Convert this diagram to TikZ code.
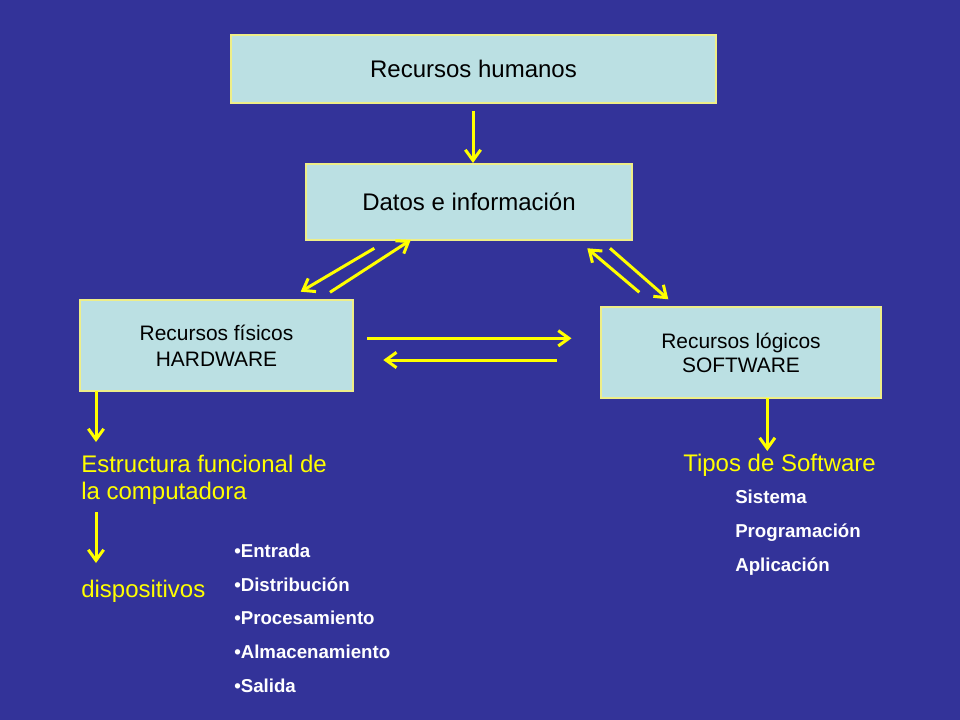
\documentclass[tikz,border=0pt]{standalone}
\usepackage{fontspec}
\setmainfont{Liberation Sans}
\usetikzlibrary{arrows.meta}
\definecolor{bg}{HTML}{333399}
\definecolor{boxfill}{HTML}{BBE0E3}
\definecolor{boxline}{HTML}{EEEE88}
\definecolor{arr}{HTML}{FFFF00}
\tikzset{
  box/.style={draw=boxline, line width=1.1pt, fill=boxfill, inner sep=0pt, align=center, text=black},
  conn/.style={draw=arr, line width=2.25pt, -{Straight Barb[length=8pt,width=11.5pt]}},
  ytext/.style={text=arr, anchor=base west, inner sep=0pt, font=\fontsize{18}{20.7}\selectfont},
  wtext/.style={text=white, anchor=base west, inner sep=0pt, font=\fontsize{14}{16}\selectfont\bfseries}
}
\begin{document}
\begin{tikzpicture}[x=0.75pt,y=-0.75pt]
\fill[bg] (0,0) rectangle (960,720);
\useasboundingbox (0,0) rectangle (960,720);

\node[box, minimum width=363.75pt, minimum height=51pt, font=\fontsize{18}{20.7}\selectfont] (hum) at (473.5,69) {Recursos humanos};
\node[box, minimum width=244.5pt, minimum height=57pt, font=\fontsize{18}{20.7}\selectfont] (dat) at (469,202) {Datos e información};
\node[box, minimum width=204.75pt, minimum height=68.25pt, font=\fontsize{15.7}{19.5}\selectfont] (fis) at (216.5,345.5) {Recursos físicos\\HARDWARE};
\node[box, minimum width=210pt, minimum height=68.25pt, font=\fontsize{15.7}{18}\selectfont] (log) at (741,352.5) {Recursos lógicos\\SOFTWARE};

\node[ytext] (est1) at (81,472) {Estructura funcional de};
\node[ytext] (est2) at (81,499) {la computadora};
\node[ytext] (disp) at (81,597) {dispositivos};
\node[ytext] (tipos) at (683,471) {Tipos de Software};

\node[wtext] (b1) at (234,557) {•Entrada};
\node[wtext] (b2) at (234,591) {•Distribución};
\node[wtext] (b3) at (234,624.5) {•Procesamiento};
\node[wtext] (b4) at (234,658) {•Almacenamiento};
\node[wtext] (b5) at (234,692) {•Salida};

\node[wtext] (s1) at (735,503) {Sistema};
\node[wtext] (s2) at (735,537.5) {Programación};
\node[wtext] (s3) at (735,571) {Aplicación};

% connector end points
\coordinate (h1) at (473,111);  \coordinate (h2) at (473,163);
\coordinate (a1) at (374.3,248.3); \coordinate (a2) at (300.7,291.7);
\coordinate (b1s) at (330,292.3); \coordinate (b2s) at (410.7,240);
\coordinate (c1) at (639.3,292.3); \coordinate (c2) at (587.3,248.3);
\coordinate (d1) at (610,248.3); \coordinate (d2) at (668.3,299.3);
\coordinate (r1) at (367.3,338.3); \coordinate (r2) at (571.5,338.3);
\coordinate (l1) at (556.7,360); \coordinate (l2) at (383.3,360);
\coordinate (f1) at (96,391); \coordinate (f2) at (96,442);
\coordinate (e1) at (96,512); \coordinate (e2) at (96,563);
\coordinate (g1) at (767.3,398); \coordinate (g2) at (767.3,451);

\draw[conn] (h1) -- (h2);
\draw[conn] (a1) -- (a2);
\draw[conn] (b1s) -- (b2s);
\draw[conn] (c1) -- (c2);
\draw[conn] (d1) -- (d2);
\draw[conn] (r1) -- (r2);
\draw[conn] (l1) -- (l2);
\draw[conn] (f1) -- (f2);
\draw[conn] (e1) -- (e2);
\draw[conn] (g1) -- (g2);
\end{tikzpicture}
\end{document}
